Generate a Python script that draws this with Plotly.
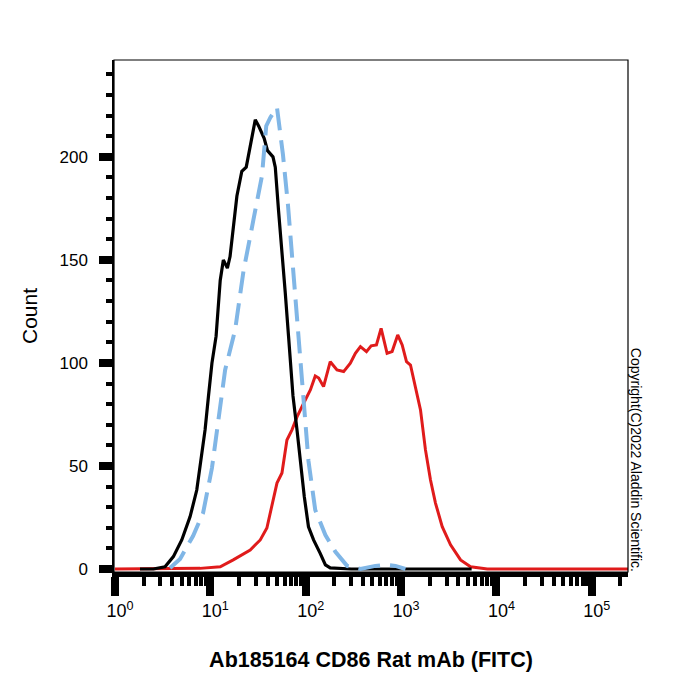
import plotly.graph_objects as go

# ---- data ----
black_x = [1.83, 2.53, 3.35, 4.10, 5.02, 6.14, 7.21, 8.14, 8.81, 9.55, 10.4, 11.5, 12.7, 13.7, 15.1,
           16.1, 17.5, 19.0, 21.4, 23.8, 29.6, 32.1, 36.7, 39.8, 45.4, 48.0, 51.9, 56.4, 61.1,
           66.1, 68.9, 73.6, 81.1, 87.8, 96.7, 107, 121, 142, 161, 181, 300, 1000, 5500]
black_y = [0, 0, 1.1, 6.0, 14.1, 25.4, 38.3, 54.5, 67.5, 83.6, 99.9, 113, 140, 150, 146,
           151.6, 166, 181, 193, 195, 218, 215, 209, 203, 200, 195, 174, 155, 134,
           113, 100, 84, 67.5, 51.3, 35.1, 20.5, 14.1, 7.6, 2.0, 0.5, 0, 0, 0]

blue_x = [3.78, 4.82, 6.59, 8.40, 10.4, 12.2, 14.3, 18.2, 22.3, 28.2, 34.8, 38.6, 42.5, 50.0,
          57.8, 65.2, 71.8, 77.8, 86.3, 95.1, 107, 126, 161, 205, 272, 375, 538, 686, 874, 1112]
blue_y = [0.5, 4.9, 16, 27.2, 49, 72.3, 96.6, 116, 144.7, 169, 190.8, 215, 219, 224,
          201, 176.7, 152.4, 127.7, 102.4, 78.2, 52.4, 28.6, 16.5, 8.3, 1.5, 0, 1.5, 2, 1.5, 0]

red_x = [1.0, 1.83, 4.06, 7.81, 12.7, 17.4, 26.2, 33.4, 39.2, 44.3, 50.0, 56.4, 63.6, 71.8, 81.1,
         99.0, 112, 126, 137, 154, 181, 213, 250, 294, 332, 375, 434, 486, 552, 618, 714,
         806, 923, 1028, 1141, 1256, 1416, 1600, 1804, 2037, 2297, 2703, 3304, 4207, 5358,
         8024, 240000]
red_y = [0, 0, 0, 0.3, 1.1, 4.4, 9.2, 14.1, 19.9, 30.2, 41.7, 46.6, 62.6, 67.5, 73.8,
         82, 86.9, 93.7, 92.7, 88.5, 100.6, 96.6, 95.8, 99.9, 104.7, 107.9, 105.5, 108.3, 108.7, 116.8, 104.7,
         105.5, 113.6, 108.7, 100.6, 99, 88.5, 77.2, 57.8, 43.2, 32, 20.5, 11.7, 4.4, 1.1,
         0, 0]

major_vals = [1, 10, 100, 1000, 10000, 100000]
major_text = ["10<sup>0</sup>", "10<sup>1</sup>", "10<sup>2</sup>",
              "10<sup>3</sup>", "10<sup>4</sup>", "10<sup>5</sup>"]
minor_vals = [k * 10 ** d for d in range(0, 6) for k in range(2, 10) if k * 10 ** d < 240000]

x_title = "Ab185164 CD86 Rat mAb (FITC)"
y_title = "Count"
copyright_text = "Copyright(C)2022 Aladdin Scientific."

FONT = "Liberation Sans, Arial, sans-serif"

fig = go.Figure()
fig.add_trace(go.Scatter(x=red_x, y=red_y, mode="lines",
                         line=dict(color="#e01b1b", width=3), showlegend=False))
fig.add_trace(go.Scatter(x=black_x, y=black_y, mode="lines",
                         line=dict(color="#000000", width=3.2), showlegend=False))
fig.add_trace(go.Scatter(x=blue_x, y=blue_y, mode="lines",
                         line=dict(color="#80b6e6", width=4, dash="22px,10px"), showlegend=False))

fig.update_layout(
    width=700, height=700,
    margin=dict(l=114, r=72, t=60, b=128),
    paper_bgcolor="white", plot_bgcolor="white",
    font=dict(family=FONT, color="black", size=16),
    xaxis=dict(
        type="log", range=[-0.01, 5.38],
        showgrid=False, zeroline=False,
        showline=True, linecolor="black", linewidth=4.5,
        ticks="outside", ticklen=19, tickwidth=8, tickcolor="black",
        tickvals=major_vals, ticktext=major_text,
        tickfont=dict(size=18), ticklabelshift=5,
        minor=dict(tickvals=minor_vals, ticks="outside", ticklen=9, tickwidth=3.5,
                   tickcolor="black", showgrid=False),
        title=dict(text="<b>" + x_title + "</b>", font=dict(size=21.5), standoff=33),
    ),
    yaxis=dict(
        range=[-1.46, 247],
        showgrid=False, zeroline=False,
        showline=True, linecolor="black", linewidth=1.5,
        ticks="outside", ticklen=13, tickwidth=8, tickcolor="black",
        tickvals=[0, 50, 100, 150, 200],
        tickfont=dict(size=17), ticklabelstandoff=8,
        minor=dict(dtick=10, ticks="outside", ticklen=6, tickwidth=3.5,
                   tickcolor="black", showgrid=False),
        title=dict(text=y_title, font=dict(size=21), standoff=16),
    ),
    shapes=[dict(type="rect", xref="paper", yref="paper", x0=0, y0=0, x1=1, y1=1,
                 line=dict(color="black", width=1.2), layer="above")],
    annotations=[dict(text=copyright_text, xref="paper", yref="paper",
                      x=1.0156, y=0.219, textangle=90, showarrow=False,
                      font=dict(size=14, color="black"), xanchor="center", yanchor="middle")],
)

fig.write_html("out.html")
